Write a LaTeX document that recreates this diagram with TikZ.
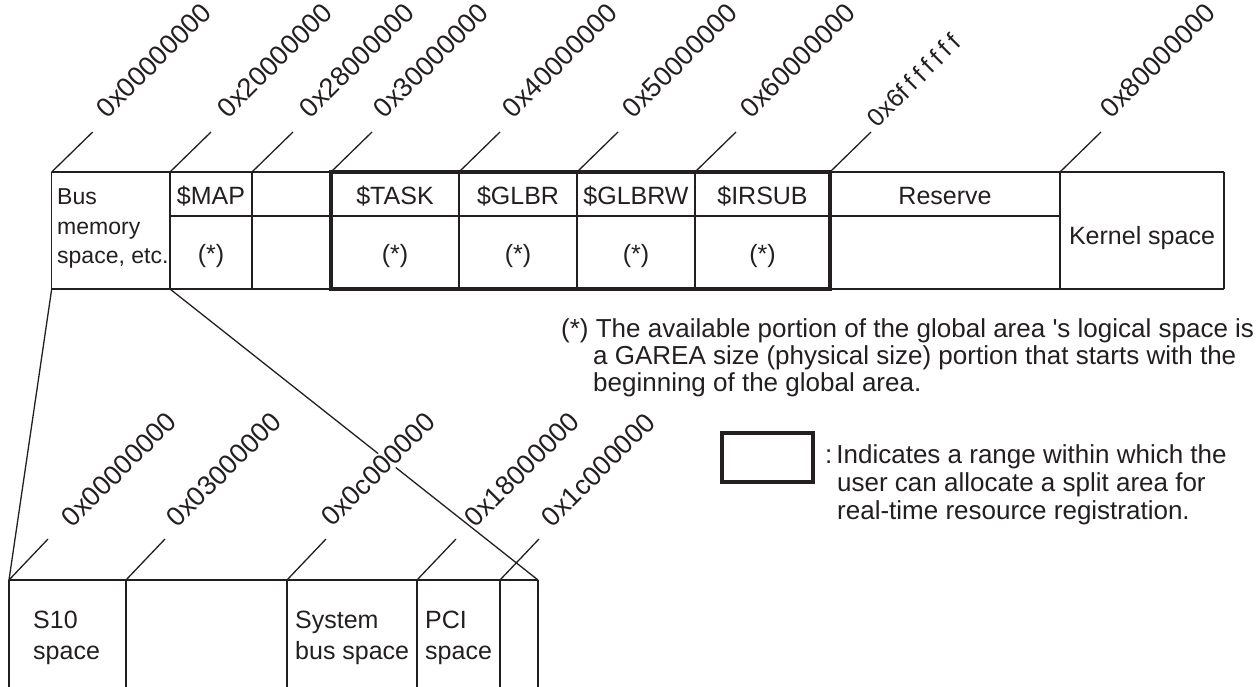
\documentclass[tikz,border=0pt]{standalone}
\usepackage{fontspec}
\setmainfont{Liberation Sans}
\definecolor{ink}{RGB}{35,31,32}
\begin{document}
\begin{tikzpicture}[x=1pt,y=-1pt,
  rule/.style={draw=ink, line width=1.3pt},
  rangebox/.style={draw=ink, line width=3.3pt, line join=miter},
  cell/.style={text=ink, font=\fontsize{25}{29}\selectfont, inner sep=0pt},
  addr/.style={text=ink, font=\fontsize{27}{27}\selectfont, rotate=45,
               anchor=south west, inner sep=0pt},
  note/.style={text=ink, font=\fontsize{26}{27}\selectfont, inner sep=0pt,
               anchor=base west}]
\useasboundingbox (0,0) rectangle (1258,687);

% ---------------- upper memory map ----------------
\coordinate (uTL) at (51.7,172);
\coordinate (uTR) at (1224,172);
\coordinate (uBL) at (51.7,289);
\coordinate (uBR) at (1224,289);
\coordinate (mapBL) at (170,289);
\draw[rule] (uTL) -- (uTR);
\draw[rule] (uBL) -- (uBR);
\draw[rule] (170,216) coordinate (midL) -- (1060,216) coordinate (midR);
\foreach \x [count=\i] in {51.7,170,252,331,459,577,695,830,1060,1224}
  \draw[rule] (\x,172) coordinate (uc\i) -- (\x,289) coordinate (ub\i);

% region available for split areas
\draw[rangebox] (331,172) coordinate (gTL) rectangle (830,289) coordinate (gBR);

% address ticks and labels
\foreach \x/\lx/\ly/\t [count=\i] in {
    51.7/108/120/0x00000000, 170/229/120/0x20000000, 252/311/120/0x28000000,
    331/385/120/0x30000000, 459/514/120/0x40000000, 577/634/120/0x50000000,
    695/752/120/0x60000000, 1060/1112/120/0x80000000} {
  \draw[rule] (\x,172) coordinate (ut\i) -- ++(41,-40) coordinate (ute\i);
  \node[addr] (ul\i) at (\lx,\ly) {\t};
}
\draw[rule] (830,172) coordinate (utF) -- ++(41,-40) coordinate (uteF);
\node[addr, font=\fontsize{25}{25}\selectfont] (ulF) at (878,129)
  {0x6f\kern5pt f\kern5pt f\kern5pt f\kern5pt f\kern5pt f\kern5pt f};

% cell texts
\node[cell, anchor=base west, font=\fontsize{23}{29}\selectfont] (bus1) at (57,205) {Bus};
\node[cell, anchor=base west, font=\fontsize{23}{29}\selectfont] (bus2) at (57,234) {memory};
\node[cell, anchor=base west, font=\fontsize{23}{29}\selectfont] (bus3) at (57,263) {space, etc.};
\foreach \cx/\t [count=\i] in {211/\$MAP, 395/\$TASK, 518/\$GLBR, 636/\$GLBRW, 762.5/\$IRSUB, 945/Reserve}
  \node[cell, anchor=base] (name\i) at (\cx,205) {\t};
\foreach \cx [count=\i] in {211,395,518,636,762.5}
  \node[cell, anchor=base] (star\i) at (\cx,262) {(*)};
\node[cell, anchor=base] (kernel) at (1142,244) {Kernel space};

% ---------------- lower memory map (bus memory space) ----------------
\coordinate (lTL) at (9,580);
\coordinate (lTR) at (538,580);
\draw[rule] (uBL) -- (lTL);
\draw[rule] (mapBL) -- (lTR);
\draw[rule] (lTL) -- (lTR);
\foreach \x [count=\i] in {9,126,287,417,500,538}
  \draw[rule] (\x,580) coordinate (lc\i) -- (\x,687) coordinate (lb\i);

\foreach \x [count=\i] in {9,126,287,417,500}
  \draw[rule] (\x,580) coordinate (lt\i) -- ++(39,-41) coordinate (lte\i);
\node[addr] (ll1) at (73,529) {0x00000000};
\node[addr] (ll2) at (178,529) {0x03000000};
\node[addr, fill=white, inner sep=1.5pt] (ll3) at (333,530.5) {0x0c000000};
\node[addr] (ll4) at (476,529) {0x18000000};
\node[addr] (ll5) at (553,529) {0x1c000000};

\node[cell, anchor=base west] (s10a) at (33,628) {S10};
\node[cell, anchor=base west] (s10b) at (33,659) {space};
\node[cell, anchor=base west] (sysa) at (295,628) {System};
\node[cell, anchor=base west] (sysb) at (295,659) {bus space};
\node[cell, anchor=base west] (pcia) at (425,628) {PCI};
\node[cell, anchor=base west] (pcib) at (425,659) {space};

% ---------------- notes ----------------
\node[note] (fn1) at (561,337)
  {(*) The available portion of the global area \textquotesingle s logical space is};
\node[note] (fn2) at (593,364) {a GAREA size (physical size) portion that starts with the};
\node[note] (fn3) at (593,391) {beginning of the global area.};

\draw[rangebox] (722,433) coordinate (kTL) rectangle (813,482) coordinate (kBR);
\node[note] (lg1) at (825,463) {:\kern4pt Indicates a range within which the};
\node[note] (lg2) at (837,491) {user can allocate a split area for};
\node[note] (lg3) at (837,519) {real-time resource registration.};
\end{tikzpicture}
\end{document}
